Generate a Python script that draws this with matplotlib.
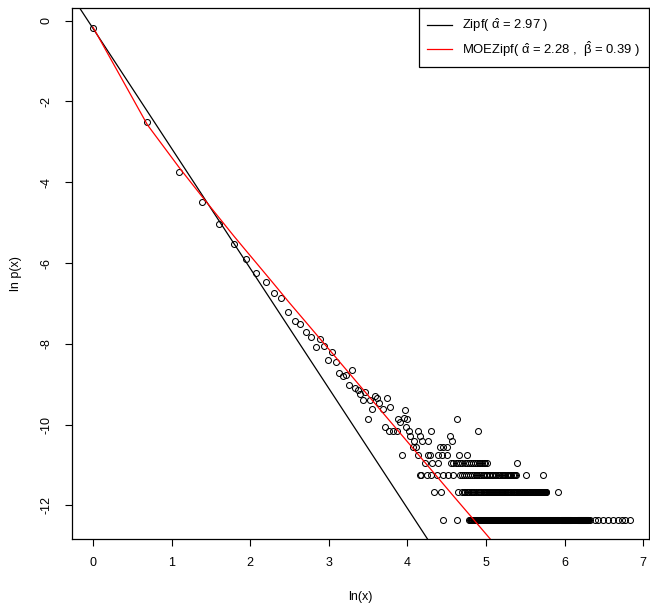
import numpy as np
import matplotlib
matplotlib.use('Agg')
import matplotlib.pyplot as plt
from matplotlib.lines import Line2D

plt.rcParams['font.family'] = ['Liberation Sans', 'DejaVu Sans']
plt.rcParams['axes.unicode_minus'] = False
plt.rcParams['mathtext.fontset'] = 'custom'
plt.rcParams['mathtext.rm'] = 'Liberation Sans'
plt.rcParams['mathtext.default'] = 'regular'

# fitted models
zipf_alpha = 2.97
zipf_lnp1 = -0.19          # ln p(1) of the Zipf fit
moe_x = [1, 2, 3, 4, 5, 6, 7, 8, 10, 12, 15, 20, 30, 50, 100, 150, 200]
moe_lnp = [-0.16, -2.58, -3.64, -4.35, -4.89, -5.33, -5.69, -6.00, -6.52,
           -6.95, -7.46, -8.12, -9.05, -10.22, -11.81, -12.73, -13.39]

# empirical frequencies: head of the distribution (x, ln p(x))
head_x = [1, 2, 3, 4, 5, 6, 7, 8, 9, 10, 11, 12, 13, 14, 15, 16, 17, 18,
          19, 20, 21, 22, 23, 24, 25, 26, 27, 28, 29, 30, 31, 32, 33, 34,
          35, 36, 37, 38, 40, 42, 44]
head_lnp = [-0.18, -2.50, -3.75, -4.50, -5.04, -5.54, -5.89, -6.25, -6.48,
            -6.73, -6.87, -7.21, -7.43, -7.51, -7.71, -7.84, -8.08, -7.88,
            -8.05, -8.39, -8.19, -8.44, -8.71, -8.80, -8.78, -9.01, -8.65,
            -9.10, -9.13, -9.25, -9.39, -9.20, -9.85, -9.38, -9.62, -9.29,
            -9.34, -9.47, -9.61, -9.35, -9.57]

# scattered points further out (ln x, ln p)
mid_lnx = [3.715, 3.77, 3.82, 3.864, 3.877, 3.906, 3.927, 3.955, 3.97, 3.98,
           3.99, 4.025, 4.033, 4.075, 4.088, 4.11, 4.14, 4.14, 4.16, 4.19,
           4.266, 4.266, 4.29, 4.30, 4.39, 4.415, 4.436, 4.457, 4.50, 4.50,
           4.54, 4.564, 4.63, 4.656, 4.762, 4.90]
mid_lnp = [-10.05, -10.16, -10.16, -10.16, -9.85, -9.94, -10.74, -9.84,
           -9.63, -10.05, -9.85, -10.16, -10.27, -10.56, -10.40, -10.56,
           -10.16, -10.74, -10.27, -10.40, -10.40, -10.74, -10.74, -10.16,
           -10.74, -10.56, -10.74, -10.56, -10.56, -10.74, -10.27, -10.40,
           -9.85, -10.74, -10.74, -10.16]

# low-count rows (count 4, 3, 2, 1): level, isolated x, dense runs (from, to, step)
row_lnp = [-10.96, -11.25, -11.66, -12.35]
row_x = [[68, 75, 81, 219],
         [64, 65, 70, 74, 80, 86, 92, 98, 246, 305],
         [77, 84, 104, 369],
         [86, 103, 446, 452, 460, 556, 594, 617, 658, 703, 750, 796, 837,
          871, 925]]
row_runs = [[(95, 118, 3), (120, 150, 3)],
            [(106, 219, 3)],
            [(110, 131, 2), (134, 166, 2), (169, 204, 2), (209, 265, 2),
             (270, 320, 2)],
            [(120, 281, 1), (285, 376, 1), (384, 437, 1), (474, 545, 1)]]

fig = plt.figure(figsize=(6.5, 6.06), dpi=100)
ax = fig.add_axes([72 / 650, 67 / 606, 577 / 650, 531 / 606])

pt = dict(ls='none', marker='o', mfc='none', mec='black', ms=4.3, mew=0.75)
ax.plot(np.log(head_x), head_lnp, **pt)
ax.plot(mid_lnx, mid_lnp, **pt)
for lvl, xs, runs in zip(row_lnp, row_x, row_runs):
    allx = list(xs)
    for a, b, s in runs:
        allx += list(range(a, b + 1, s))
    allx = np.array(allx, dtype=float)
    ax.plot(np.log(allx), np.full(len(allx), lvl), **pt)

ax.axline((0, zipf_lnp1), slope=-zipf_alpha, color='black', lw=0.9)
ax.plot(np.log(moe_x), moe_lnp, color='red', lw=0.9)

ax.set_xlim(-0.267, 7.074)
ax.set_ylim(-12.83, 0.314)
ax.set_xticks(range(0, 8))
ax.set_yticks([0, -2, -4, -6, -8, -10, -12])
ax.tick_params(direction='out', length=5.2, width=0.8, labelsize=9)
ax.tick_params(axis='x', pad=8)
ax.tick_params(axis='y', pad=9)
for t in ax.get_yticklabels():
    t.set_rotation(90)
    t.set_va('center')
for s in ax.spines.values():
    s.set_linewidth(0.9)

ax.set_xlabel('ln(x)', fontsize=9)
ax.xaxis.set_label_coords(0.5, -0.098)
ax.set_ylabel('ln p(x)', fontsize=9)
ax.yaxis.set_label_coords(-0.087, 0.5)

handles = [Line2D([], [], color='black', lw=0.9), Line2D([], [], color='red', lw=0.9)]
labels = [r'Zipf( $\hat{\alpha}$ = 2.97 )',
          r'MOEZipf( $\hat{\alpha}$ = 2.28 ,  $\hat{\beta}$ = 0.39 )']
leg = ax.legend(handles, labels, loc='upper right', borderaxespad=0, fontsize=9.4,
                fancybox=False, framealpha=1, edgecolor='black',
                handlelength=1.9, handletextpad=0.8, borderpad=0.65,
                labelspacing=0.4)
leg.get_frame().set_linewidth(0.9)

fig.savefig('out.png', dpi=100)
